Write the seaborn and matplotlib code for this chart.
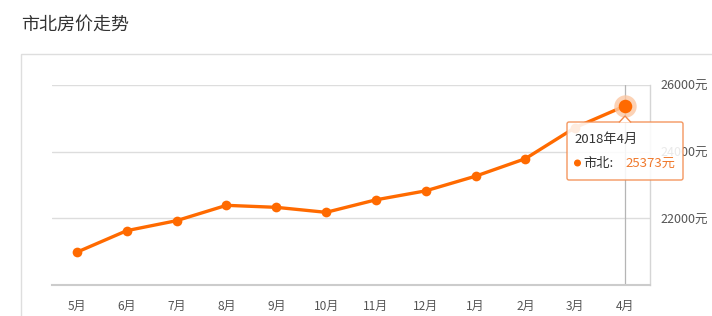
import numpy as np
import pandas as pd
import seaborn as sns
import matplotlib
matplotlib.use("Agg")
import matplotlib.pyplot as plt
import matplotlib.transforms as mtransforms
from matplotlib.patches import FancyBboxPatch, Rectangle, Polygon

# ---- data ----
months = ["5月", "6月", "7月", "8月", "9月", "10月", "11月", "12月", "1月", "2月", "3月", "4月"]
prices = [20985, 21630, 21930, 22390, 22330, 22180, 22555, 22825, 23265, 23790, 24725, 25373]
y_ticks = [22000, 24000, 26000]
y_tick_labels = ["22000元", "24000元", "26000元"]
title = "市北房价走势"
series_name = "市北"
tooltip_title = "2018年4月"

sns.set_theme(style="white")
plt.rcParams["font.family"] = ["Noto Sans CJK SC", "DejaVu Sans"]

W, H = 712, 316
fig = plt.figure(figsize=(W / 100, H / 100), dpi=100)
# pixel transform (origin top-left)
T = mtransforms.Affine2D().scale(1 / W, -1 / H).translate(0, 1) + fig.transFigure

ax = fig.add_axes([52 / W, 1 - 285 / H, (650 - 52) / W, (285 - 85) / H])

orange = "#ff6a00"
df = pd.DataFrame({"month": months, "price": prices})

# crosshair behind line
last_i = len(months) - 1
ax.axvline(last_i, color="#b5b5b5", lw=0.9, zorder=1)

sns.lineplot(data=df, x="month", y="price", sort=False, ax=ax, color=orange,
             lw=2.4, marker="o", markersize=7, markeredgewidth=0, zorder=3)

# highlighted last point
ax.scatter([last_i], [prices[-1]], s=260, color="#fcc7a3", alpha=0.8, lw=0, zorder=4)
ax.scatter([last_i], [prices[-1]], s=95, color=orange, lw=0, zorder=5)

ax.set_xlim(-0.5, len(months) - 0.5)
ax.set_ylim(20000, 26000)
ax.set_xlabel("")
ax.set_ylabel("")

ax.yaxis.tick_right()
ax.set_yticks(y_ticks)
ax.set_yticklabels(y_tick_labels)
ax.tick_params(axis="y", length=0, pad=7.5, labelsize=9, labelcolor="#555555")
ax.tick_params(axis="x", length=5, width=1, color="#cccccc", direction="out",
               pad=6, labelsize=8.6, labelcolor="#555555")
ax.set_xticks(range(len(months)))
ax.set_xticklabels(months)
for yv in y_ticks:
    ax.axhline(yv, color="#dddddd", lw=1, zorder=0)

for s in ["left", "top"]:
    ax.spines[s].set_visible(False)
ax.spines["bottom"].set_color("#cccccc")
ax.spines["bottom"].set_linewidth(1.5)
ax.spines["right"].set_color("#d5d5d5")
ax.spines["right"].set_linewidth(1)

# card border
fig.patches.append(Rectangle((21, 54), 720, 300, transform=T, fill=False,
                             edgecolor="#dedede", lw=1, zorder=0))

# title
fig.text(21 / W, 1 - 25 / H, title, fontsize=13, color="#333333", va="center", ha="left")

# tooltip
box = FancyBboxPatch((567, 122), 116, 58, boxstyle="round,pad=0,rounding_size=2",
                     transform=T, facecolor="white", alpha=0.88, edgecolor="#f2894a",
                     lw=1, zorder=10)
fig.patches.append(box)
notch = Polygon([(619, 122.5), (625, 116), (631, 122.5)], closed=False, transform=T,
                facecolor="white", edgecolor="#f2894a", lw=1, zorder=11)
fig.patches.append(notch)
fig.text(574 / W, 1 - 139 / H, tooltip_title, fontsize=9.5, color="#333333",
         va="center", ha="left", zorder=12)
fig.patches.append(plt.Circle((577.5, 163), 2.8, transform=T, color=orange, zorder=12))
fig.text(583 / W, 1 - 163 / H, series_name + ":", fontsize=9.5, color="#333333",
         va="center", ha="left", zorder=12)
fig.text(625 / W, 1 - 163 / H, f"{prices[-1]}元", fontsize=9.5, color="#f07a2e",
         va="center", ha="left", zorder=12)

fig.savefig("out.png", dpi=100)
